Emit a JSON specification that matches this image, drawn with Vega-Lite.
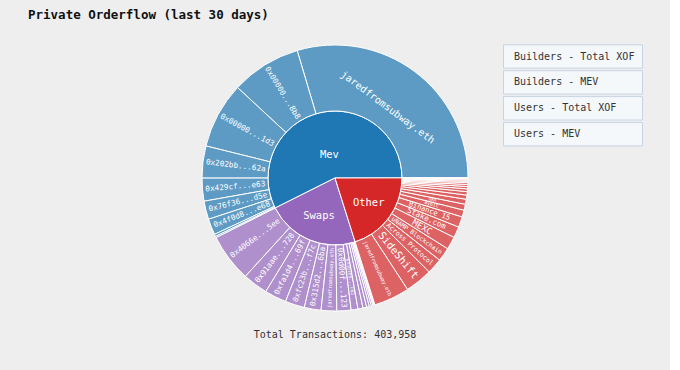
{
  "$schema": "https://vega.github.io/schema/vega-lite/v6.json",
  "background": "#eeeeee",
  "padding": {"left": 0, "top": 8, "right": 0, "bottom": 36},
  "title": {"text": "Private Orderflow (last 30 days)", "anchor": "start", "dx": 28, "font": "DejaVu Sans Mono", "fontSize": 12.5, "fontWeight": "bold", "color": "#111111", "offset": 9},
  "datasets": {
    "flow": [
      {"parent": "Mev", "label": "jaredfromsubway.eth", "value": 119504},
      {"parent": "Mev", "label": "0x00000...8b8", "value": 34336},
      {"parent": "Mev", "label": "0x00000...1d3", "value": 32429},
      {"parent": "Mev", "label": "0x202bb...62a", "value": 15709},
      {"parent": "Mev", "label": "0x429cf...e63", "value": 11221},
      {"parent": "Mev", "label": "0x76f36...d5e", "value": 8977},
      {"parent": "Mev", "label": "0x4f0d8...e68", "value": 7855},
      {"parent": "Mev", "label": "0x6b75d...d1f", "value": 1122},
      {"parent": "Mev", "label": "0x1f2f1...8a3", "value": 675},
      {"parent": "Swaps", "label": "0x4066e...5ee", "value": 23564},
      {"parent": "Swaps", "label": "0x91aae...728", "value": 12343},
      {"parent": "Swaps", "label": "0xfa1d4...69f", "value": 10660},
      {"parent": "Swaps", "label": "0xfc23b...f7c", "value": 9538},
      {"parent": "Swaps", "label": "0x315d2...6ba", "value": 8191},
      {"parent": "Swaps", "label": "jaredfromsubway.eth", "value": 7630},
      {"parent": "Swaps", "label": "0x0d00f...123", "value": 6957},
      {"parent": "Swaps", "label": "0x3b1e8...c02", "value": 3366},
      {"parent": "Swaps", "label": "0x8c9a4...e17", "value": 2469},
      {"parent": "Swaps", "label": "0x5e0b2...94d", "value": 1795},
      {"parent": "Swaps", "label": "0xa77f3...b60", "value": 1347},
      {"parent": "Swaps", "label": "0x2d6c9...f38", "value": 1010},
      {"parent": "Swaps", "label": "0xe41a0...7c5", "value": 785},
      {"parent": "Swaps", "label": "0x93b57...0ad", "value": 561},
      {"parent": "Swaps", "label": "0x14c8e...d29", "value": 449},
      {"parent": "Other", "label": "jaredfromsubway.eth", "value": 17505},
      {"parent": "Other", "label": "SideShift", "value": 13465},
      {"parent": "Other", "label": "Across Protocol", "value": 7630},
      {"parent": "Other", "label": "uNAMP Blockchain", "value": 6733},
      {"parent": "Other", "label": "MEXC", "value": 6284},
      {"parent": "Other", "label": "Stake.com", "value": 5498},
      {"parent": "Other", "label": "Binance 15", "value": 5162},
      {"parent": "Other", "label": "Bybit", "value": 3366},
      {"parent": "Other", "label": "OKX", "value": 2917},
      {"parent": "Other", "label": "KuCoin", "value": 2469},
      {"parent": "Other", "label": "Gate.io", "value": 2020},
      {"parent": "Other", "label": "Bitget", "value": 1683},
      {"parent": "Other", "label": "HTX", "value": 1347},
      {"parent": "Other", "label": "Kraken", "value": 1122},
      {"parent": "Other", "label": "Crypto.com", "value": 1010},
      {"parent": "Other", "label": "Coinbase", "value": 898},
      {"parent": "Other", "label": "Bitfinex", "value": 673},
      {"parent": "Other", "label": "Gemini", "value": 561},
      {"parent": "Other", "label": "Bitstamp", "value": 449},
      {"parent": "Other", "label": "Upbit", "value": 337},
      {"parent": "Other", "label": "Bithumb", "value": 224},
      {"parent": "Other", "label": "Poloniex", "value": 112}
    ],
    "buttons": [
      {"button": "Builders - Total XOF"},
      {"button": "Builders - MEV"},
      {"button": "Users - Total XOF"},
      {"button": "Users - MEV"}
    ]
  },
  "vconcat": [
    {
      "width": 670,
      "height": 296,
      "title": {"text": "Total Transactions: 403,958", "orient": "bottom", "anchor": "middle", "font": "DejaVu Sans Mono", "fontSize": 10, "fontWeight": "normal", "color": "#333333", "offset": 4},
      "layer": [
        {
          "data": {"name": "flow"},
          "transform": [
            {"aggregate": [{"op": "sum", "field": "value", "as": "pv"}], "groupby": ["parent"]},
            {"stack": "pv", "groupby": [], "sort": [{"field": "pv", "order": "descending"}], "as": ["s0", "s1"]}
          ],
          "mark": {"type": "arc", "outerRadius": 67, "innerRadius": 0, "stroke": "white", "strokeWidth": 1},
          "encoding": {
            "theta": {"field": "s0", "type": "quantitative", "scale": {"range": [1.5707963, -4.712389], "nice": false, "zero": true}},
            "theta2": {"field": "s1"},
            "color": {"field": "parent", "type": "nominal", "scale": {"domain": ["Mev", "Swaps", "Other"], "range": ["#1f77b4", "#9467bd", "#d62728"]}, "legend": null}
          }
        },
        {
          "data": {"name": "flow"},
          "transform": [
            {"joinaggregate": [{"op": "sum", "field": "value", "as": "ptotal"}], "groupby": ["parent"]},
            {"stack": "value", "groupby": [], "sort": [{"field": "ptotal", "order": "descending"}, {"field": "value", "order": "descending"}], "as": ["s0", "s1"]}
          ],
          "mark": {"type": "arc", "outerRadius": 133, "innerRadius": 67, "stroke": "white", "strokeWidth": 1, "fillOpacity": 0.7},
          "encoding": {
            "theta": {"field": "s0", "type": "quantitative"},
            "theta2": {"field": "s1"},
            "color": {"field": "parent", "type": "nominal", "legend": null}
          }
        },
        {
          "data": {"name": "flow"},
          "transform": [
            {"aggregate": [{"op": "sum", "field": "value", "as": "pv"}], "groupby": ["parent"]},
            {"joinaggregate": [{"op": "sum", "field": "pv", "as": "total"}]},
            {"stack": "pv", "groupby": [], "sort": [{"field": "pv", "order": "descending"}], "as": ["s0", "s1"]},
            {"calculate": "(datum.s0+datum.s1)/2", "as": "mid"},
            {"calculate": "(datum.s1-datum.s0)/datum.total*PI", "as": "ha"},
            {"calculate": "2*67*sin(datum.ha)/(3*datum.ha)", "as": "rc"}
          ],
          "mark": {"type": "text", "font": "DejaVu Sans Mono", "fontSize": 10.5, "fill": "white", "align": "center", "baseline": "middle"},
          "encoding": {
            "theta": {"field": "mid", "type": "quantitative"},
            "radius": {"field": "rc", "type": "quantitative", "scale": null},
            "text": {"field": "parent", "type": "nominal"}
          }
        },
        {
          "data": {"name": "flow"},
          "transform": [
            {"joinaggregate": [{"op": "sum", "field": "value", "as": "ptotal"}], "groupby": ["parent"]},
            {"joinaggregate": [{"op": "sum", "field": "value", "as": "total"}]},
            {"stack": "value", "groupby": [], "sort": [{"field": "ptotal", "order": "descending"}, {"field": "value", "order": "descending"}], "as": ["s0", "s1"]},
            {"calculate": "(datum.s0+datum.s1)/2", "as": "mid"},
            {"calculate": "(datum.s1-datum.s0)/datum.total*360", "as": "span"},
            {"calculate": "(450-360*datum.mid/datum.total)%360", "as": "t"},
            {"calculate": "datum.span>60", "as": "tang"},
            {"calculate": "datum.tang ? ((datum.t<90||datum.t>270) ? datum.t : datum.t-180) : (datum.t<180 ? datum.t-90 : datum.t+90)", "as": "rot"},
            {"calculate": "datum.tang ? 10 : min(10.5, 100/length(datum.label), datum.span*PI/180*100*0.9)", "as": "fs"},
            {"calculate": "datum.tang ? 88 : 100", "as": "rr"},
            {"filter": "datum.fs>=3.5"}
          ],
          "mark": {"type": "text", "font": "DejaVu Sans Mono", "fill": "white", "align": "center", "baseline": "middle"},
          "encoding": {
            "theta": {"field": "mid", "type": "quantitative"},
            "radius": {"field": "rr", "type": "quantitative", "scale": null},
            "angle": {"field": "rot", "type": "quantitative", "scale": null},
            "size": {"field": "fs", "type": "quantitative", "scale": null},
            "text": {"field": "label", "type": "nominal"}
          }
        },
        {
          "data": {"name": "buttons"},
          "mark": {"type": "point", "filled": true, "opacity": 0, "size": 0},
          "encoding": {
            "fill": {
              "field": "button", "type": "nominal",
              "scale": {"domain": ["Builders - Total XOF", "Builders - MEV", "Users - Total XOF", "Users - MEV"], "range": ["#f5f8fa", "#f5f8fa", "#f5f8fa", "#f5f8fa"]},
              "legend": {
                "orient": "none", "legendX": 503, "legendY": 16, "title": null,
                "symbolType": "M-1,-1.17H12.9V1.17H-1Z", "symbolSize": 400,
                "symbolStrokeColor": "#c8d4e3", "symbolStrokeWidth": 1, "symbolOpacity": 1,
                "labelOffset": -10, "labelFont": "DejaVu Sans Mono", "labelFontSize": 10, "labelColor": "#333333",
                "rowPadding": -3.1, "padding": 0, "labelLimit": 300,
                "encode": {"symbols": {"update": {"stroke": {"value": "#c8d4e3"}, "strokeWidth": {"value": 1}, "opacity": {"value": 1}, "fill": {"value": "#f5f8fa"}}}}
              }
            }
          }
        }
      ]
    }
  ],
  "config": {"view": {"stroke": null}, "concat": {"spacing": 0}}
}
